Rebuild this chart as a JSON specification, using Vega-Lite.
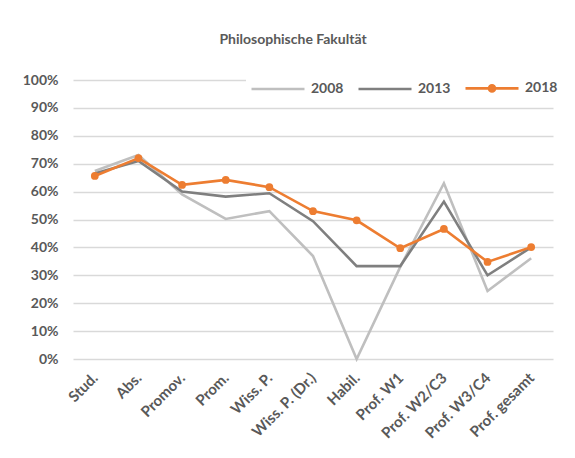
{
  "$schema": "https://vega.github.io/schema/vega-lite/v6.json",
  "width": 480,
  "height": 279,
  "autosize": "none",
  "padding": {"left": 73, "top": 80, "right": 22, "bottom": 99},
  "background": "white",
  "title": {
    "text": "Philosophische Fakultät",
    "font": "Lato",
    "fontSize": 14,
    "fontWeight": "bold",
    "color": "#595959",
    "anchor": "middle",
    "dx": -20,
    "offset": 26
  },
  "config": {
    "view": {"stroke": null},
    "font": "Lato"
  },
  "data": {
    "values": [
      {"cat": "Stud.", "year": "2008", "v": 0.674},
      {"cat": "Abs.", "year": "2008", "v": 0.731},
      {"cat": "Promov.", "year": "2008", "v": 0.59},
      {"cat": "Prom.", "year": "2008", "v": 0.502},
      {"cat": "Wiss. P.", "year": "2008", "v": 0.53},
      {"cat": "Wiss. P. (Dr.)", "year": "2008", "v": 0.369},
      {"cat": "Habil.", "year": "2008", "v": 0.0},
      {"cat": "Prof. W1", "year": "2008", "v": 0.33},
      {"cat": "Prof. W2/C3", "year": "2008", "v": 0.63},
      {"cat": "Prof. W3/C4", "year": "2008", "v": 0.244},
      {"cat": "Prof. gesamt", "year": "2008", "v": 0.361},
      {"cat": "Stud.", "year": "2013", "v": 0.665},
      {"cat": "Abs.", "year": "2013", "v": 0.71},
      {"cat": "Promov.", "year": "2013", "v": 0.60},
      {"cat": "Prom.", "year": "2013", "v": 0.582},
      {"cat": "Wiss. P.", "year": "2013", "v": 0.594},
      {"cat": "Wiss. P. (Dr.)", "year": "2013", "v": 0.494},
      {"cat": "Habil.", "year": "2013", "v": 0.333},
      {"cat": "Prof. W1", "year": "2013", "v": 0.333},
      {"cat": "Prof. W2/C3", "year": "2013", "v": 0.564},
      {"cat": "Prof. W3/C4", "year": "2013", "v": 0.30},
      {"cat": "Prof. gesamt", "year": "2013", "v": 0.40},
      {"cat": "Stud.", "year": "2018", "v": 0.656},
      {"cat": "Abs.", "year": "2018", "v": 0.72},
      {"cat": "Promov.", "year": "2018", "v": 0.624},
      {"cat": "Prom.", "year": "2018", "v": 0.642},
      {"cat": "Wiss. P.", "year": "2018", "v": 0.616},
      {"cat": "Wiss. P. (Dr.)", "year": "2018", "v": 0.53},
      {"cat": "Habil.", "year": "2018", "v": 0.497},
      {"cat": "Prof. W1", "year": "2018", "v": 0.397},
      {"cat": "Prof. W2/C3", "year": "2018", "v": 0.466},
      {"cat": "Prof. W3/C4", "year": "2018", "v": 0.348},
      {"cat": "Prof. gesamt", "year": "2018", "v": 0.401}
    ]
  },
  "encoding": {
    "x": {
      "field": "cat",
      "type": "nominal",
      "sort": null,
      "title": null,
      "scale": {"padding": 0.5},
      "axis": {
        "labelAngle": -45,
        "labelAlign": "right",
        "labelBaseline": "middle",
        "labelFont": "Lato",
        "labelFontSize": 15,
        "labelFontWeight": "bold",
        "labelColor": "#595959",
        "labelPadding": 16,
        "ticks": false,
        "domain": false,
        "labelOverlap": false
      }
    },
    "y": {
      "field": "v",
      "type": "quantitative",
      "title": null,
      "scale": {"domain": [0, 1]},
      "axis": {
        "format": ".0%",
        "values": [0, 0.1, 0.2, 0.3, 0.4, 0.5, 0.6, 0.7, 0.8, 0.9, 1],
        "labelOverlap": false,
        "labelFont": "Lato",
        "labelFontSize": 14,
        "labelFontWeight": "bold",
        "labelColor": "#595959",
        "labelPadding": 15,
        "ticks": false,
        "domain": false,
        "gridColor": "#d9d9d9",
        "gridWidth": 1.6
      }
    },
    "color": {
      "field": "year",
      "type": "nominal",
      "title": null,
      "scale": {"domain": ["2008", "2013", "2018"], "range": ["#bfbfbf", "#7f7f7f", "#ed7d31"]},
      "legend": {
        "orient": "none",
        "legendX": 173,
        "legendY": -4,
        "direction": "horizontal",
        "columns": 3,
        "fillColor": "white",
        "padding": 5,
        "columnPadding": 9,
        "labelOffset": 46,
        "labelFont": "Lato",
        "labelFontSize": 14,
        "labelFontWeight": "bold",
        "labelColor": "#595959",
        "symbolType": "stroke",
        "symbolStrokeWidth": 2.6,
        "symbolSize": 100,
        "encode": {
          "symbols": {
            "update": {
              "shape": {"signal": "datum.value == '2018' ? 'M-1.3,0H9.3M4.6,0A0.6,0.6,0,1,1,3.4,0A0.6,0.6,0,1,1,4.6,0Z' : 'M-1.3,0H9.3'"},
              "fill": {"signal": "datum.value == '2018' ? '#ed7d31' : 'transparent'"}
            }
          }
        }
      }
    }
  },
  "layer": [
    {
      "mark": {"type": "line", "strokeWidth": 2.6}
    },
    {
      "transform": [{"filter": "datum.year == '2018'"}],
      "mark": {"type": "point", "filled": true, "opacity": 1, "size": 60}
    }
  ]
}
